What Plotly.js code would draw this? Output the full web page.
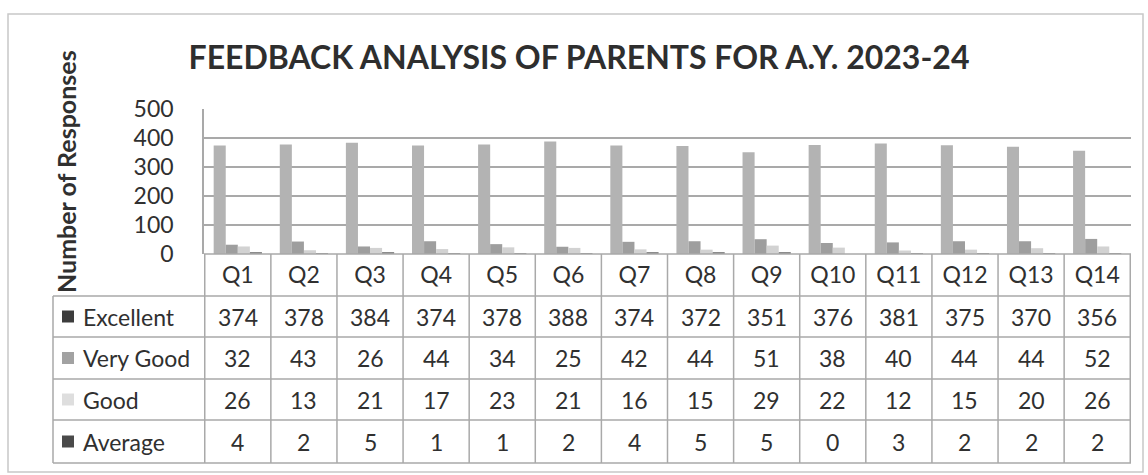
<!DOCTYPE html>
<html>
<head>
<meta charset="utf-8">
<script src="https://cdn.plot.ly/plotly-3.0.1.min.js"></script>
<style>
  html, body { margin: 0; padding: 0; background: #fff; }
  #myDiv { width: 1148px; height: 475px; }
</style>
</head>
<body>
<div id="myDiv"></div>
<script>
// Parent feedback, A.Y. 2023-24 (chart with data table underneath)

const questions = ['Q1', 'Q2', 'Q3', 'Q4', 'Q5', 'Q6', 'Q7', 'Q8', 'Q9', 'Q10', 'Q11', 'Q12', 'Q13', 'Q14'];

const excellent = [374, 378, 384, 374, 378, 388, 374, 372, 351, 376, 381, 375, 370, 356];
const veryGood  = [32, 43, 26, 44, 34, 25, 42, 44, 51, 38, 40, 44, 44, 52];
const good      = [26, 13, 21, 17, 23, 21, 16, 15, 29, 22, 12, 15, 20, 26];
const average   = [4, 2, 5, 1, 1, 2, 4, 5, 5, 0, 3, 2, 2, 2];

const seriesNames = ['Excellent', 'Very Good', 'Good', 'Average'];
const seriesValues = [excellent, veryGood, good, average];
const barColors = ['#b3b3b3', '#9e9e9e', '#d2d2d2', '#8c8c8c'];
const keyColors = ['#3c3c3c', '#a2a2a2', '#dedede', '#4a4a4a'];

const FONT = 'Lato, "Open Sans", sans-serif';
const TEXT = '#303030';
const GRID = '#a9a9a9';

// pixel helpers for the table area (plot spans 204..1131 x, 109..463 y)
const PL = 204, PR = 1131, PT = 109, PB = 463;
const px2x = (p) => (p - PL) / (PR - PL);
const px2y = (p) => (PB - p) / (PB - PT);

const baseline = 254;
const rowLines = [296, 337, 379, 420, 463];
const rowMids = [316.5, 358, 399.5, 441.5];
const tableLeft = 53;

const traces = seriesNames.map((name, k) => ({
  type: 'bar',
  name,
  x: questions,
  y: seriesValues[k],
  marker: { color: barColors[k], line: { width: 0 } },
  hoverinfo: 'x+y+name'
}));

const shapes = [];
const annotations = [];
const lineStyle = { color: GRID, width: 1.5 };

// outer chart border
shapes.push({
  type: 'rect', xref: 'paper', yref: 'paper',
  x0: px2x(8), x1: px2x(1143), y0: px2y(472), y1: px2y(14),
  line: { color: '#c8c8c8', width: 1.5 }
});

// table: top (axis baseline) and row lines
shapes.push({
  type: 'line', xref: 'paper', yref: 'paper',
  x0: 0, x1: 1, y0: px2y(baseline), y1: px2y(baseline), line: lineStyle
});
rowLines.forEach((p) => {
  shapes.push({
    type: 'line', xref: 'paper', yref: 'paper',
    x0: px2x(tableLeft), x1: 1, y0: px2y(p), y1: px2y(p), line: lineStyle
  });
});
// left border of label column
shapes.push({
  type: 'line', xref: 'paper', yref: 'paper',
  x0: px2x(tableLeft), x1: px2x(tableLeft), y0: px2y(rowLines[0]), y1: px2y(PB), line: lineStyle
});
// column separators on category boundaries
for (let i = 0; i <= questions.length; i++) {
  shapes.push({
    type: 'line', xref: 'x', yref: 'paper',
    x0: i - 0.5, x1: i - 0.5, y0: px2y(baseline), y1: 0, line: lineStyle
  });
}

// row labels with keys, and values
seriesNames.forEach((name, k) => {
  const yc = px2y(rowMids[k]);
  shapes.push({
    type: 'rect', xref: 'paper', yref: 'paper',
    x0: px2x(62), x1: px2x(74), y0: px2y(rowMids[k] + 6), y1: px2y(rowMids[k] - 6),
    line: { width: 0 }, fillcolor: keyColors[k]
  });
  annotations.push({
    xref: 'paper', yref: 'paper', x: px2x(81), y: yc,
    xanchor: 'left', yanchor: 'middle', showarrow: false,
    text: name, font: { family: FONT, size: 23, color: TEXT }
  });
  seriesValues[k].forEach((v, i) => {
    annotations.push({
      xref: 'x', yref: 'paper', x: questions[i], y: yc,
      xanchor: 'center', yanchor: 'middle', showarrow: false,
      text: String(v), font: { family: FONT, size: 23, color: TEXT }
    });
  });
});

// y axis title
annotations.push({
  xref: 'paper', yref: 'paper', x: px2x(66), y: px2y(172),
  xanchor: 'center', yanchor: 'middle', showarrow: false, textangle: -90,
  text: '<b>Number of Responses</b>', font: { family: FONT, size: 25, color: TEXT }
});

const layout = {
  width: 1148,
  height: 475,
  margin: { l: PL, r: 1148 - PR, t: PT, b: 475 - PB },
  paper_bgcolor: '#ffffff',
  plot_bgcolor: '#ffffff',
  font: { family: FONT, color: TEXT },
  title: {
    text: '<b>FEEDBACK ANALYSIS OF PARENTS FOR A.Y. 2023-24</b>',
    font: { family: FONT, size: 32, color: '#2e2e2e' },
    x: 579 / 1148, xanchor: 'center', xref: 'container',
    y: 1 - 58 / 475, yanchor: 'middle', yref: 'container'
  },
  showlegend: false,
  barmode: 'group',
  bargap: 0.27,
  bargroupgap: 0,
  xaxis: {
    type: 'category',
    showgrid: false,
    zeroline: false,
    showline: false,
    ticks: '',
    ticklabelstandoff: 5,
    tickfont: { family: FONT, size: 23, color: TEXT },
    fixedrange: true
  },
  yaxis: {
    domain: [px2y(baseline), 1],
    range: [0, 500],
    dtick: 100,
    showgrid: true,
    gridcolor: GRID,
    gridwidth: 1.5,
    zeroline: false,
    showline: true,
    linecolor: GRID,
    linewidth: 1.5,
    ticks: '',
    ticklabelstandoff: 24,
    tickfont: { family: FONT, size: 23, color: TEXT },
    fixedrange: true
  },
  shapes,
  annotations
};

Plotly.newPlot('myDiv', traces, layout, { displayModeBar: false, responsive: false });
document.title = 'Feedback Analysis of Parents A.Y. 2023-24';
</script>
</body>
</html>
